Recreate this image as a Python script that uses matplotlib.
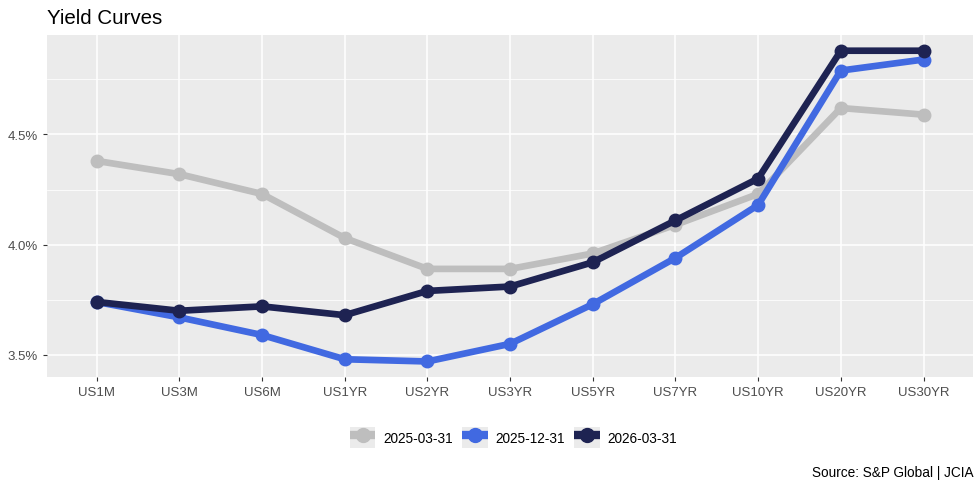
import matplotlib
matplotlib.use("Agg")
import matplotlib.pyplot as plt
from matplotlib.patches import Rectangle
from matplotlib.lines import Line2D
from matplotlib.ticker import FuncFormatter, MultipleLocator

plt.rcParams['font.family'] = ['Liberation Sans', 'DejaVu Sans']

# tenors on the x axis
tenors = ['US1M', 'US3M', 'US6M', 'US1YR', 'US2YR', 'US3YR',
          'US5YR', 'US7YR', 'US10YR', 'US20YR', 'US30YR']

# yields in %
y_2025_03 = [4.38, 4.32, 4.23, 4.03, 3.89, 3.89, 3.96, 4.09, 4.23, 4.62, 4.59]
y_2025_12 = [3.74, 3.67, 3.59, 3.48, 3.47, 3.55, 3.73, 3.94, 4.18, 4.79, 4.84]
y_2026_03 = [3.74, 3.70, 3.72, 3.68, 3.79, 3.81, 3.92, 4.11, 4.30, 4.88, 4.88]

series = [
    ('2025-03-31', y_2025_03, '#BEBEBE'),
    ('2025-12-31', y_2025_12, '#4169E1'),
    ('2026-03-31', y_2026_03, '#1E2352'),
]

fig = plt.figure(figsize=(9.8, 4.89), dpi=100)
ax = fig.add_axes([0.048, 0.227, 0.945, 0.699])
ax.set_facecolor('#EBEBEB')

x = list(range(len(tenors)))
handles = []
for label, vals, col in series:
    ax.plot(x, vals, color=col, lw=4.8, marker='o', ms=9,
            solid_capstyle='butt', solid_joinstyle='round', zorder=3)
    # legend key: grey square behind a short thick line with a point
    bg = Rectangle((0, 0), 1, 1, facecolor='#EBEBEB', edgecolor='none')
    ln = Line2D([], [], color=col, lw=6, marker='o', ms=10,
                solid_capstyle='butt')
    handles.append((bg, ln))

lo = min(min(v) for _, v, _ in series)
hi = max(max(v) for _, v, _ in series)
pad = (hi - lo) * 0.05
ax.set_ylim(lo - pad, hi + pad)
ax.set_xlim(-0.6, len(tenors) - 1 + 0.6)

ax.set_xticks(x)
ax.set_xticklabels(tenors)
ax.yaxis.set_major_locator(MultipleLocator(0.5))
ax.yaxis.set_minor_locator(MultipleLocator(0.25))
ax.yaxis.set_major_formatter(FuncFormatter(lambda v, p: f'{v:.1f}%'))

ax.grid(which='major', color='white', lw=1.1, zorder=1)
ax.grid(which='minor', axis='y', color='white', lw=0.55, zorder=1)
ax.set_axisbelow(True)
for s in ax.spines.values():
    s.set_visible(False)
ax.tick_params(axis='both', which='major', colors='#333333', labelcolor='#4D4D4D',
               labelsize=9.5, length=3, width=0.8)
ax.tick_params(axis='y', which='minor', length=0)

fig.text(0.048, 0.951, 'Yield Curves', fontsize=14.8, ha='left', va='baseline')
fig.text(0.993, 0.033, 'Source: S&P Global | JCIA', fontsize=9.8, ha='right', va='center')

leg = fig.legend(handles, [s[0] for s in series], loc='center', ncol=3,
                 bbox_to_anchor=(0.524, 0.103), frameon=False, fontsize=9.8,
                 handlelength=1.9, handleheight=2.0, handletextpad=0.55,
                 columnspacing=0.7, borderaxespad=0)

fig.savefig('out.png', dpi=100)
